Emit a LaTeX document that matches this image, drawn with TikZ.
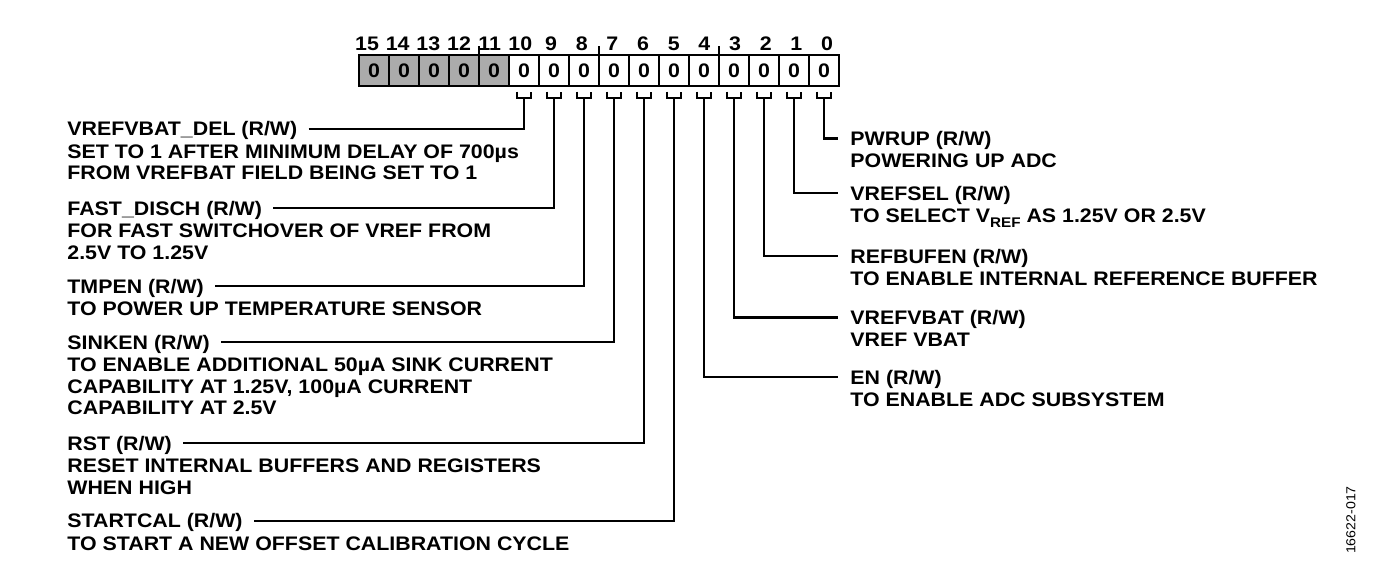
\documentclass[tikz,border=0pt]{standalone}
\usepackage{fontspec}
\setmainfont{Liberation Sans}[FakeStretch=1.09]
\usetikzlibrary{positioning}
\newcommand{\lowidx}[1]{\raisebox{-2.5pt}{\fontsize{7pt}{8pt}\selectfont #1}}

\begin{document}
\begin{tikzpicture}[x=0.5pt, y=-0.5pt,
  font=\fontsize{9.8pt}{10.8pt}\selectfont\bfseries,
  cell/.style={draw, line width=1.3pt, outer sep=0pt, minimum width=15pt, minimum height=15.5pt,
    inner sep=0pt, text height=7pt, text depth=0pt},
  ttl/.style={inner sep=0pt, text height=7pt, text depth=0pt, anchor=base west},
  dsc/.style={inner sep=0pt, align=left, below right=3.24pt and 0pt of #1},
  wire/.style={line width=1.1pt}]
\useasboundingbox (0,0) rectangle (1390,570);
% register cells, reserved bits shaded
\foreach \i in {11,...,15}
  \node[cell, fill=black!33] (b\i) at ({374+(15-\i)*30},70.5) {0};
\foreach \i in {0,...,10}
  \node[cell, fill=white] (b\i) at ({374+(15-\i)*30},70.5) {0};
% bit numbers
\foreach \i in {0,...,15}
  \node[anchor=base, inner sep=0pt] (n\i) at ({367+(15-\i)*30.67},50) {\i};
% nibble ticks
\foreach \j in {12,8,4}
  \draw[wire] (b\j.north east) -- ++(0,-9);
% brackets under each field
\foreach \i in {0,...,10}{
  \draw[wire] ([shift={(-7,5.5)}]b\i.south) |- ([shift={(7,12.3)}]b\i.south) -- ++(0,-6.8);
  \coordinate (k\i) at ([yshift=-6.15pt]b\i.south);
}
% left column
\node[ttl] (tdel) at (67,135.7) {VREFVBAT\_DEL (R/W)};
\node[dsc=tdel.south west] (ddel) {\strut SET TO 1 AFTER MINIMUM DELAY OF 700µs\\FROM VREFBAT FIELD BEING SET TO 1};
\node[ttl] (tdis) at (67,215) {FAST\_DISCH (R/W)};
\node[dsc=tdis.south west] (ddis) {\strut FOR FAST SWITCHOVER OF VREF FROM\\2.5V TO 1.25V};
\node[ttl] (ttmp) at (67,293.3) {TMPEN (R/W)};
\node[dsc=ttmp.south west] (dtmp) {\strut TO POWER UP TEMPERATURE SENSOR};
\node[ttl] (tsnk) at (67,349.3) {SINKEN (R/W)};
\node[dsc=tsnk.south west] (dsnk) {\strut TO ENABLE ADDITIONAL 50µA SINK CURRENT\\CAPABILITY AT 1.25V, 100µA CURRENT\\CAPABILITY AT 2.5V};
\node[ttl] (trst) at (67,450) {RST (R/W)};
\node[dsc=trst.south west] (drst) {\strut RESET INTERNAL BUFFERS AND REGISTERS\\WHEN HIGH};
\node[ttl] (tcal) at (67,527.7) {STARTCAL (R/W)};
\node[dsc=tcal.south west] (dcal) {\strut TO START A NEW OFFSET CALIBRATION CYCLE};
% right column
\node[ttl] (tpwr) at (850,145.5) {PWRUP (R/W)};
\node[dsc=tpwr.south west] (dpwr) {\strut POWERING UP ADC};
\node[ttl] (tsel) at (850,200) {VREFSEL (R/W)};
\node[dsc=tsel.south west] (dsel) {\strut TO SELECT V\lowidx{REF} AS 1.25V OR 2.5V};
\node[ttl] (tbuf) at (850,263) {REFBUFEN (R/W)};
\node[dsc=tbuf.south west] (dbuf) {\strut TO ENABLE INTERNAL REFERENCE BUFFER};
\node[ttl] (tvb) at (850,324.5) {VREFVBAT (R/W)};
\node[dsc=tvb.south west] (dvb) {\strut VREF VBAT};
\node[ttl] (ten) at (850,384) {EN (R/W)};
\node[dsc=ten.south west] (den) {\strut TO ENABLE ADC SUBSYSTEM};
% leaders
\draw[wire, shorten <=5.5pt] (tdel.east) -| (k10);
\draw[wire, shorten <=5.5pt] (tdis.east) -| (k9);
\draw[wire, shorten <=5.5pt] (ttmp.east) -| (k8);
\draw[wire, shorten <=5.5pt] (tsnk.east) -| (k7);
\draw[wire, shorten <=5.5pt] (trst.east) -| (k6);
\draw[wire, shorten <=5.5pt] (tcal.east) -| (k5);
\draw[wire, shorten >=6pt] (k0) |- (tpwr.west);
\draw[wire, shorten >=6pt] (k1) |- (tsel.west);
\draw[wire, shorten >=6pt] (k2) |- (tbuf.west);
\draw[wire, shorten >=6pt] (k3) |- (tvb.west);
\draw[wire, shorten >=6pt] (k4) |- (ten.west);
% figure number
\node[rotate=90, inner sep=0pt, font=\fontsize{6.5pt}{8pt}\selectfont\mdseries] (figno) at (1351,520) {16622-017};
\end{tikzpicture}
\end{document}
